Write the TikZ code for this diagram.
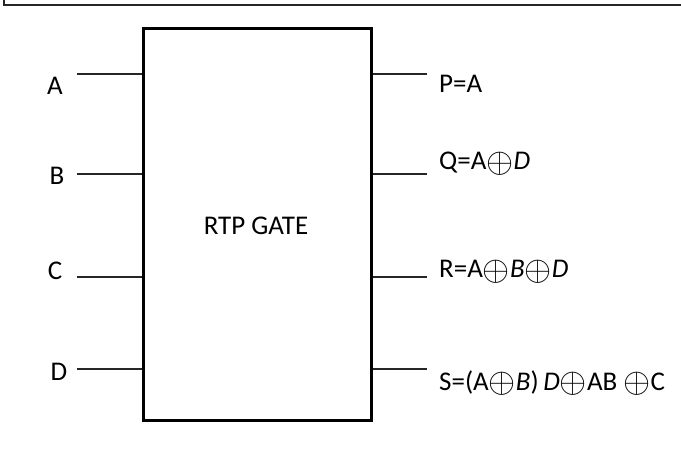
\documentclass[tikz,border=0pt]{standalone}
\usepackage{fontspec}
\setmainfont{Carlito}
\usepackage{tikz}
\usetikzlibrary{positioning}

\newcommand{\xo}{\raisebox{-2.5pt}{\scalebox{1.4}{$\oplus$}}}

\begin{document}
\begin{tikzpicture}[x=1pt, y=1pt, every node/.style={font=\fontsize{27}{31}\selectfont}]
      \tikzstyle{gatebox}=[draw, line width=3pt, minimum width=228pt, minimum height=391pt, inner sep=0pt]
      \tikzstyle{pinlabel}=[inner sep=0pt]
      \tikzstyle{wire}=[line width=1.3pt, black!85]
      \useasboundingbox (0,0) rectangle (681,448);
      % frame, only top and left visible
      \draw[line width=2pt, black!85] (4,448) -- (4,443) -- (681,443);

      \node[gatebox] (gate) at (257,223.5) {};
      \node (gatename) at (256,222) {RTP GATE};

      % inputs
      \coordinate (inA) at (77,374);
      \coordinate (inB) at (77,274);
      \coordinate (inC) at (77,171);
      \coordinate (inD) at (77,79);
      \node[pinlabel, anchor=base] (lblA) at (55,353) {A};
      \node[pinlabel, anchor=base] (lblB) at (57,263) {B};
      \node[pinlabel, anchor=base] (lblC) at (55,168) {C};
      \node[pinlabel, anchor=base] (lblD) at (59,68) {D};
      \draw[wire] (inA) -- (inA -| gate.west);
      \draw[wire] (inB) -- (inB -| gate.west);
      \draw[wire] (inC) -- (inC -| gate.west);
      \draw[wire] (inD) -- (inD -| gate.west);

      % outputs
      \coordinate (outP) at (427,374);
      \coordinate (outQ) at (427,274);
      \coordinate (outR) at (427,171);
      \coordinate (outS) at (427,79);
      \node[pinlabel, anchor=base west] (lblP) at (439,355) {P=A};
      \node[pinlabel, anchor=base west] (lblQ) at (439,278) {Q=A\xo\textit{D}};
      \node[pinlabel, anchor=base west] (lblR) at (439,170) {R=A\xo\textit{B}\xo\textit{D}};
      \node[pinlabel, anchor=base west] (lblS) at (439,58) {S=(A\xo\textit{B})\,\textit{D}\xo AB \xo C};
      \draw[wire] (outP -| gate.east) -- (outP);
      \draw[wire] (outQ -| gate.east) -- (outQ);
      \draw[wire] (outR -| gate.east) -- (outR);
      \draw[wire] (outS -| gate.east) -- (outS);
    \end{tikzpicture}
\end{document}
